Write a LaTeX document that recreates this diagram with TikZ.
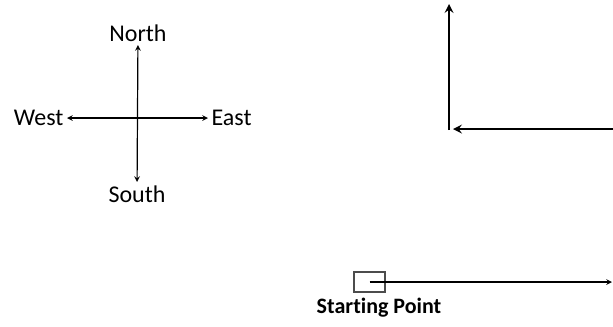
\documentclass[tikz,border=0pt]{standalone}
\usepackage{fontspec}
\setmainfont[Ligatures={NoCommon}]{Carlito}
\begin{document}
\begin{tikzpicture}[x=0.75pt, y=-0.75pt, >=stealth]
    % Define styles
    \tikzset{
        dirlabel/.style={
            font=\fontsize{18}{20}\selectfont,
            inner sep=2.5pt
        },
        compass/.style={
            <->,
            line width=0.9pt
        },
        route/.style={
            ->,
            line width=1.9pt
        },
        startbox/.style={
            draw=black!70,
            line width=1.4pt,
            minimum width=23pt,
            minimum height=15pt,
            inner sep=0pt
        }
    }
    \useasboundingbox (0,0) rectangle (613,326);
    
    % Compass
    \node[dirlabel] (north) at (138,33) {North};
    \node[dirlabel] (south) at (137,194) {South};
    \node[dirlabel, anchor=east] (west) at (67,118) {West};
    \node[dirlabel, anchor=west] (east) at (208,118) {East};
    \draw[compass] (north) -- (south);
    \draw[compass] (west) -- (east);
    
    % Path turning north
    \coordinate (corner) at (449,130);
    \coordinate (top) at (449,4);
    \coordinate (right) at (615,129);
    \draw[route] (corner) -- (top);
    \draw[route] (right) -- (453,129);
    
    % Starting point
    \node[startbox] (start) at (369.5,282) {};
    \node[font=\fontsize{16.5}{18}\selectfont\bfseries] (startlabel) at (379,308) {Starting Point};
    \coordinate (goal) at (612,282);
    \draw[->, line width=0.9pt] (start.center) -- (goal);
    
\end{tikzpicture}
\end{document}
